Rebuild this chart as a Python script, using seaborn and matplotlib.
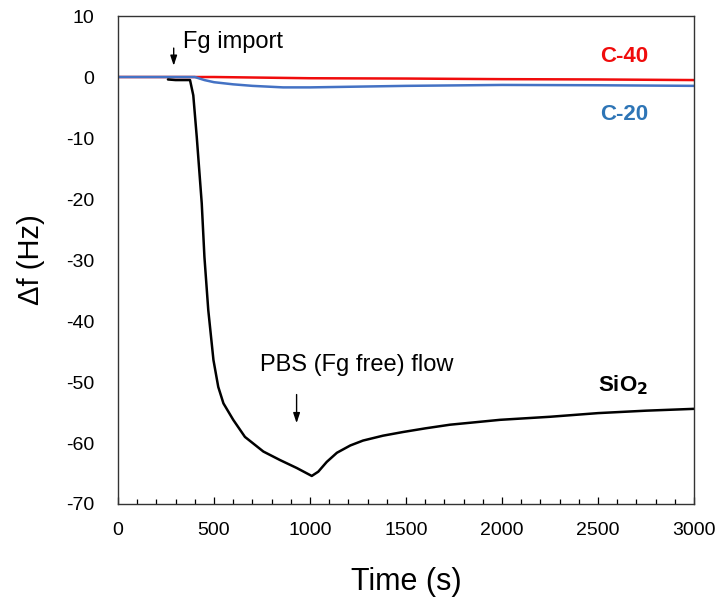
import numpy as np
import pandas as pd
import matplotlib
matplotlib.use('Agg')
import matplotlib.pyplot as plt
import seaborn as sns
from matplotlib.ticker import MultipleLocator

sns.set_style("white")
plt.rcParams['font.family'] = ['Liberation Sans', 'DejaVu Sans']
plt.rcParams['axes.unicode_minus'] = False
plt.rcParams['text.color'] = 'black'
plt.rcParams['axes.labelcolor'] = 'black'
plt.rcParams['xtick.color'] = 'black'
plt.rcParams['ytick.color'] = 'black'

# QCM frequency shift
sio2_time = [260, 300, 375, 392, 410, 436, 450, 470, 497, 522, 549, 600, 661, 757,
             844, 931, 1009, 1043, 1087, 1140, 1210, 1276, 1380, 1484, 1600, 1729,
             1860, 1990, 2250, 2500, 2750, 3000]
sio2_df = [-0.4, -0.5, -0.5, -3.0, -9.8, -20.7, -29.5, -38.2, -46.4, -50.8, -53.5,
           -56.2, -59.0, -61.4, -62.8, -64.1, -65.4, -64.7, -63.1, -61.6, -60.4,
           -59.6, -58.8, -58.2, -57.6, -57.0, -56.6, -56.2, -55.7, -55.1, -54.7, -54.4]

c20_time = [0, 400, 450, 500, 600, 700, 860, 1000, 1200, 1500, 2000, 2500, 3000]
c20_df = [0.0, 0.0, -0.5, -0.85, -1.2, -1.45, -1.7, -1.7, -1.6, -1.45, -1.3, -1.35, -1.45]

c40_time = [0, 500, 1000, 1500, 2000, 2500, 3000]
c40_df = [0.0, 0.0, -0.2, -0.25, -0.35, -0.4, -0.5]

red = '#f00c0c'
blue_line = '#4472c4'
blue_text = '#2e75b6'

fig = plt.figure(figsize=(7.17, 6.0), dpi=100)
ax = fig.add_axes([0.1646, 0.16, 0.8034, 0.8133])

sns.lineplot(x=c40_time, y=c40_df, ax=ax, color=red, linewidth=1.8)
sns.lineplot(x=c20_time, y=c20_df, ax=ax, color=blue_line, linewidth=1.8)
sns.lineplot(x=sio2_time, y=sio2_df, ax=ax, color='black', linewidth=1.8, sort=False)

ax.set_xlim(0, 3000)
ax.set_ylim(-70, 10)
ax.xaxis.set_major_locator(MultipleLocator(500))
ax.xaxis.set_minor_locator(MultipleLocator(100))
ax.yaxis.set_major_locator(MultipleLocator(10))

ax.tick_params(axis='x', which='major', direction='in', length=5, width=0.9,
               pad=13, labelsize=14, bottom=True, top=False)
ax.tick_params(axis='x', which='minor', direction='in', length=3.5, width=0.9,
               bottom=True, top=False)
ax.tick_params(axis='y', length=0, pad=17, labelsize=14)

for sp in ax.spines.values():
    sp.set_visible(True)
    sp.set_color('#333333')
    sp.set_linewidth(1.0)

ax.set_xlabel('Time (s)', fontsize=22, labelpad=20)
ax.set_ylabel('Δf (Hz)', fontsize=21, labelpad=15)

# annotations
arrow = dict(arrowstyle='-|>,head_length=0.6,head_width=0.2', color='black', lw=1)
ax.annotate('', xy=(290, 1.4), xytext=(290, 5.2), arrowprops=arrow)
ax.text(339, 5.7, 'Fg import', fontsize=17, va='center', ha='left')

ax.annotate('', xy=(930, -57.2), xytext=(930, -51.6), arrowprops=arrow)
ax.text(1245, -47.2, 'PBS (Fg free) flow', fontsize=17, va='center', ha='center')

ax.text(2760, 3.3, 'C-40', color=red, fontsize=16, fontweight='bold', ha='right', va='center')
ax.text(2760, -6.2, 'C-20', color=blue_text, fontsize=16, fontweight='bold', ha='right', va='center')
ax.text(2760, -50.6, 'SiO$_\\mathbf{2}$', color='black', fontsize=16, fontweight='bold',
        ha='right', va='center')

fig.savefig('out.png', dpi=100)
